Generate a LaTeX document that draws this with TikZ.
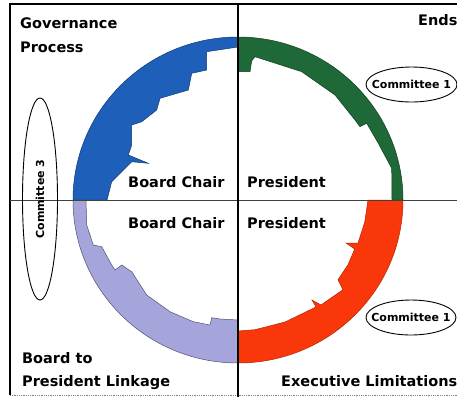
\documentclass[tikz,border=0pt]{standalone}
\usepackage{fontspec}
\setmainfont{DejaVu Sans}
\usetikzlibrary{shapes.geometric}

\definecolor{govblue}{RGB}{30,95,185}
\definecolor{endsgreen}{RGB}{30,105,55}
\definecolor{linklav}{RGB}{165,165,220}
\definecolor{limred}{RGB}{250,55,10}

\begin{document}
\begin{tikzpicture}[x=1pt,y=-1pt,
  quadtext/.style={font=\bfseries\fontsize{14.5}{16}\selectfont, inner sep=0pt, anchor=base west},
  committee/.style={draw=black, line width=0.9pt, ellipse, inner sep=0pt},
  cfont/.style={font=\bfseries\fontsize{11}{12}\selectfont, inner sep=0pt},
  ringpart/.style={line width=0.5pt}]
\useasboundingbox (0,0) rectangle (457,397);
\clip (0,0) rectangle (457,397);
\fill[white] (0,0) rectangle (457,397);

\coordinate (ctr) at (238,200);

% Governance Process quadrant (upper left)
\filldraw[ringpart, fill=govblue, draw=govblue!60!black]
  (73,200) arc[start angle=180, end angle=270, x radius=165, y radius=163]
  -- (238,47) -- (206.7,51.7) -- (206.7,70) -- (191.7,73.3) -- (188.3,90)
  -- (160,98.3) -- (156.7,110) -- (141.7,121.7) -- (131.7,125) -- (131.7,145)
  -- (128.3,155) -- (148.3,163.3) -- (131.7,161.7) -- (111.7,181.7)
  -- (107,200) -- cycle;

% Ends quadrant (upper right)
\filldraw[ringpart, fill=endsgreen, draw=endsgreen!60!black]
  (238,37) arc[start angle=270, end angle=360, x radius=165, y radius=163]
  -- (392,200) -- (391.7,168.3) -- (378.3,143.3) -- (366.7,123.3)
  -- (360,126.7) -- (355,120) -- (335,95) -- (301.7,71.7) -- (255,56.7)
  -- (251.7,61) -- (250,71.7) -- (238,71.7) -- cycle;

% Executive Limitations quadrant (lower right)
\filldraw[ringpart, fill=limred, draw=limred!70!black]
  (403,200) arc[start angle=0, end angle=90, x radius=165, y radius=163]
  -- (238,331) -- (255,329.7) -- (285,322) -- (316,307) -- (312,300)
  -- (321,305) -- (331,298) -- (343,289.7) -- (338,279.7) -- (348,264.7)
  -- (354.7,249) -- (346,243) -- (358,243) -- (364.7,222.3)
  -- (368,200) -- cycle;

% Board to President Linkage quadrant (lower left)
\filldraw[ringpart, fill=linklav, draw=linklav!50!black]
  (238,363) arc[start angle=90, end angle=180, x radius=165, y radius=163]
  -- (86,200) -- (86.7,225) -- (93.3,245) -- (101.7,246.7) -- (111.7,265)
  -- (115,270) -- (121.7,265) -- (131.7,271.7) -- (146.7,295) -- (170,311.7)
  -- (193.3,321.7) -- (210,325) -- (211.7,317.7) -- (220,319)
  -- (238,320) -- cycle;

% frame and axes
\draw[line width=1.2pt] (457,4) -- (10,4) -- (10,395);
\draw[gray, densely dotted, line width=0.8pt] (10,395) -- (457,395);
\draw[black!75, line width=0.9pt] (10,200) -- (457,200);
\draw[line width=2.4pt] (238,4) -- (238,397);

% quadrant captions
\node[quadtext] (gov) at (20,28.5) {Governance};
\node[quadtext] (proc) at (20,52) {Process};
\node[quadtext] (ends) at (418,25) {Ends};
\node[quadtext] (chairup) at (128,187) {Board Chair};
\node[quadtext] (presup) at (247,187) {President};
\node[quadtext] (chairdn) at (128,228) {Board Chair};
\node[quadtext] (presdn) at (247,228) {President};
\node[quadtext] (link1) at (22,363) {Board to};
\node[quadtext] (link2) at (22,386.5) {President Linkage};
\node[quadtext] (exec) at (281,386.5) {Executive Limitations};

% committees
\node[committee, minimum width=91pt, minimum height=35pt] (c1up) at (411.5,84.5) {};
\node[cfont] (c1upt) at (c1up) {Committee 1};
\node[committee, minimum width=90pt, minimum height=35pt] (c1dn) at (411,317.5) {};
\node[cfont] (c1dnt) at (c1dn) {Committee 1};
\node[committee, minimum width=35pt, minimum height=202pt] (c3) at (40,199) {};
\node[cfont, rotate=90] (c3t) at (c3) {Committee 3};
\end{tikzpicture}
\end{document}
